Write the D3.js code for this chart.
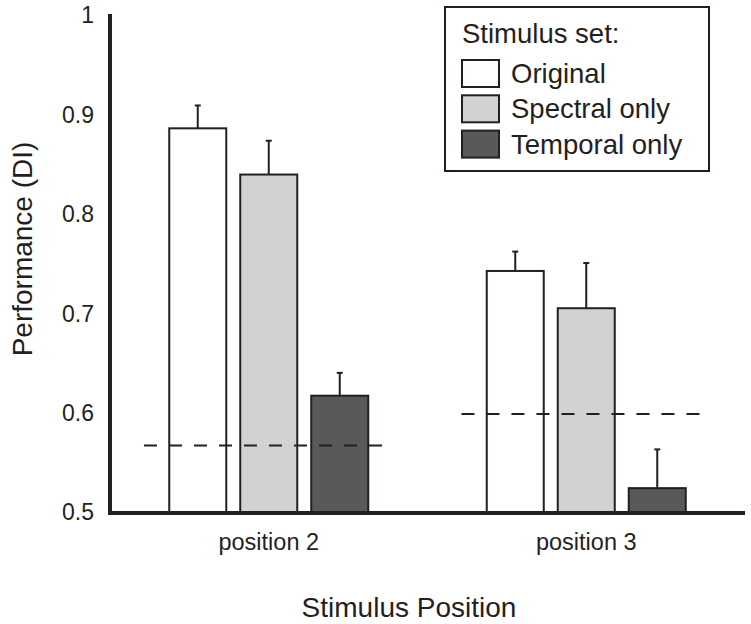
<!DOCTYPE html>
<html><head><meta charset="utf-8">
<script src="https://cdn.jsdelivr.net/npm/d3@7"></script>
<style>html,body{margin:0;padding:0;background:#fff;}svg{display:block;font-family:"Liberation Sans",Arial,Helvetica,sans-serif;}</style>
</head><body>
<svg id="chart" width="751" height="624"></svg>
<script>
const positions = ["position 2", "position 3"];
const seriesNames = ["Original", "Spectral only", "Temporal only"];
const original = [0.887, 0.7435];
const originalErr = [0.910, 0.763];
const spectral = [0.8405, 0.706];
const spectralErr = [0.8745, 0.7515];
const temporal = [0.618, 0.525];
const temporalErr = [0.641, 0.564];
const chance = [0.568, 0.5995];
const yTicks = [0.5, 0.6, 0.7, 0.8, 0.9, 1];
const yTickLabels = ["0.5", "0.6", "0.7", "0.8", "0.9", "1"];
const colors = ["#ffffff", "#d1d2d4", "#58595b"];
const ink = "#231f20";

const values = [original, spectral, temporal];
const errs = [originalErr, spectralErr, temporalErr];

const svg = d3.select("#chart");
const y = d3.scaleLinear().domain([0.5, 1]).range([513, 16]);
const x0 = d3.scaleBand().domain(positions).range([110, 745]).padding(0);
const x1 = d3.scaleBand().domain(seriesNames).range([-99.5, 99.5]).paddingInner(0.197).paddingOuter(0);

// bars
const data = [];
positions.forEach((p, i) => seriesNames.forEach((s, j) => {
  data.push({p, s, j, v: values[j][i], e: errs[j][i]});
}));
const g = svg.append("g");
data.forEach(d => {
  const cx = x0(d.p) + x0.bandwidth() / 2;
  const bx = cx + x1(d.s);
  const mid = bx + x1.bandwidth() / 2;
  g.append("line").attr("x1", mid).attr("x2", mid).attr("y1", y(d.v)).attr("y2", y(d.e))
    .attr("stroke", ink).attr("stroke-width", 2);
  g.append("line").attr("x1", mid - 3).attr("x2", mid + 3).attr("y1", y(d.e)).attr("y2", y(d.e))
    .attr("stroke", ink).attr("stroke-width", 2);
  g.append("rect").attr("x", bx).attr("width", x1.bandwidth())
    .attr("y", y(d.v)).attr("height", y(0.5) - y(d.v))
    .attr("fill", colors[d.j]).attr("stroke", ink).attr("stroke-width", 2);
});

// chance lines (drawn over bars)
positions.forEach((p, i) => {
  const bx = x0(p), bw = x0.bandwidth();
  svg.append("line")
    .attr("x1", bx + 0.107 * bw).attr("x2", bx + 0.86 * bw)
    .attr("y1", y(chance[i])).attr("y2", y(chance[i]))
    .attr("stroke", ink).attr("stroke-width", 2)
    .attr("stroke-dasharray", "13,12");
});

// axes
const yAxis = d3.axisLeft(y).tickValues(yTicks).tickFormat((d, i) => yTickLabels[i]).tickSize(0).tickPadding(16);
const ya = svg.append("g").attr("transform", "translate(110,0)").call(yAxis);
ya.select(".domain").attr("stroke", ink).attr("stroke-width", 4).attr("d", `M0,${y(1) - 2}V${y(0.5) + 2}`);
ya.selectAll("text").attr("font-size", 23).attr("fill", ink).attr("font-family", "Liberation Sans, Arial, sans-serif").attr("dy", "0.3em");

const xAxis = d3.axisBottom(x0).tickSize(0).tickPadding(20);
const xa = svg.append("g").attr("transform", `translate(0,${y(0.5)})`).call(xAxis);
xa.select(".domain").attr("stroke", ink).attr("stroke-width", 4).attr("d", "M108,0H745");
xa.selectAll("text").attr("font-size", 23.5).attr("fill", ink).attr("font-family", "Liberation Sans, Arial, sans-serif").attr("dy", "0.71em");

// axis titles
svg.append("text").attr("x", 409).attr("y", 617).attr("text-anchor", "middle")
  .attr("font-size", 28).attr("fill", ink).text("Stimulus Position");
svg.append("text").attr("transform", "translate(32,249) rotate(-90)").attr("text-anchor", "middle")
  .attr("font-size", 28).attr("fill", ink).text("Performance (DI)");

// legend
const lg = svg.append("g");
lg.append("rect").attr("x", 445).attr("y", 7).attr("width", 264).attr("height", 164)
  .attr("fill", "#fff").attr("stroke", ink).attr("stroke-width", 2);
lg.append("text").attr("x", 462).attr("y", 43).attr("font-size", 27.5).attr("fill", ink).text("Stimulus set:");
seriesNames.forEach((s, j) => {
  lg.append("rect").attr("x", 462).attr("y", 60 + j * 35.3).attr("width", 37).attr("height", 27)
    .attr("fill", colors[j]).attr("stroke", ink).attr("stroke-width", 2);
  lg.append("text").attr("x", 511).attr("y", 83 + j * 35.3).attr("font-size", 27.5).attr("fill", ink).text(s);
});
</script>
</body></html>
